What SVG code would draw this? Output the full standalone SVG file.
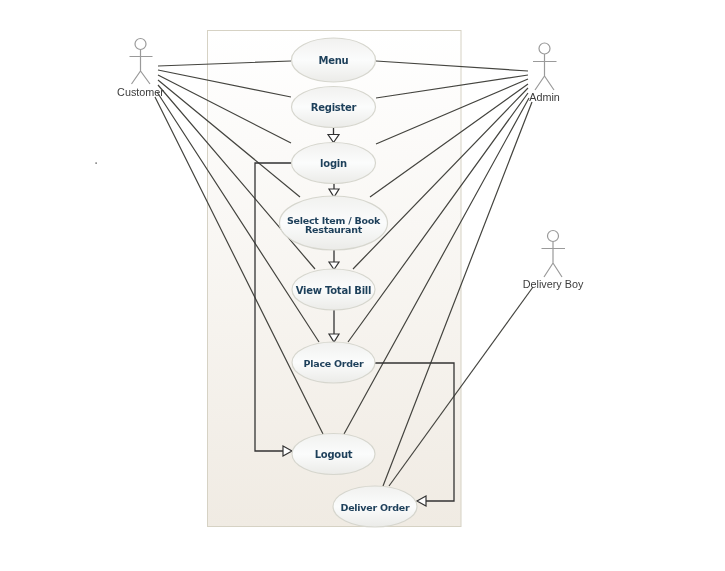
<svg xmlns="http://www.w3.org/2000/svg" width="725" height="571" viewBox="0 0 725 571">
<style>
.uc{fill:url(#ug);stroke:#d6d6ce;stroke-width:1.2}
.ut{font:bold 10px "DejaVu Sans",sans-serif;fill:#1e3f5a;text-anchor:middle;letter-spacing:-.25px}
.sm{font-size:9.5px}
.al{font:10.8px "Liberation Sans",Arial,sans-serif;fill:#3c3c3c;text-anchor:middle}
.ac{fill:none;stroke:#9a9a9a;stroke-width:1.2}
.ln{stroke:#44443f;stroke-width:1.2;fill:none}
.rel{stroke:#333;stroke-width:1.3;fill:none}
.tri{fill:#fff;stroke:#333;stroke-width:1.2}
</style>
<defs>
<linearGradient id="bg" x1="0" y1="0" x2="0" y2="1"><stop offset="0" stop-color="#ffffff"/><stop offset="1" stop-color="#f0ebe3"/></linearGradient>
<linearGradient id="ug" x1="0" y1="0" x2="0" y2="1"><stop offset="0" stop-color="#f1f1ef"/><stop offset=".5" stop-color="#fbfcfc"/><stop offset="1" stop-color="#ebebe8"/></linearGradient>
<filter id="soft" x="0" y="0" width="1" height="1" filterUnits="objectBoundingBox"><feGaussianBlur stdDeviation="0.35"/></filter>
</defs>
<g filter="url(#soft)">
<rect x="0" y="0" width="725" height="571" fill="#fff"/>
<rect id="boundary" x="207.5" y="30.5" width="253.5" height="496" fill="url(#bg)" stroke="#d6d2c4" stroke-width="1"/>
<rect x="95.5" y="162.5" width="1.2" height="1.2" fill="#222"/>
<g id="connectors">
<path class="ln" d="M158 66L291 61M158 70L291 97M158 75L291 143M158 80L300 197M158 85L315 269M157 92L319 342M155 97L323 434"/>
<path class="ln" d="M376 61L528 71M376 98L528 75M376 144L528 79M370 197L528 84M353 269L528 88M348 342L528 93M344 434L529 98M383 486L532 102"/>
<path class="ln" d="M533 287L389 486"/>
<path class="rel" d="M333.500 127V135M334 183V189M334 250V262M334 310V334M291 163H255V451H283M375 363H454V501H426"/>
<path class="tri" d="M328 134.500H339L333.500 142.500ZM329 189H339L334 197ZM329 262H339L334 269.500ZM329 334H339L334 342ZM283 446V456L292 451ZM426 496V506L417 501Z"/>
</g>
<g id="menu"><ellipse class="uc" cx="333.500" cy="60" rx="42" ry="22"/><text class="ut" x="333.500" y="64">Menu</text></g>
<g id="register"><ellipse class="uc" cx="333.500" cy="107" rx="42" ry="20.500"/><text class="ut" x="333.500" y="111">Register</text></g>
<g id="login"><ellipse class="uc" cx="333.500" cy="163" rx="42" ry="20.500"/><text class="ut" x="333.500" y="167">login</text></g>
<g id="select"><ellipse class="uc" cx="333.500" cy="223" rx="54" ry="27"/><text class="ut sm" x="333.500" y="223.500">Select Item / Book</text><text class="ut sm" x="333.500" y="233">Restaurant</text></g>
<g id="bill"><ellipse class="uc" cx="333.500" cy="289.500" rx="41.500" ry="20.500"/><text class="ut" x="333.500" y="294">View Total Bill</text></g>
<g id="place"><ellipse class="uc" cx="333.500" cy="362.500" rx="41.500" ry="20.500"/><text class="ut sm" x="333.500" y="366.500">Place Order</text></g>
<g id="logout"><ellipse class="uc" cx="333.500" cy="454" rx="41.500" ry="20.500"/><text class="ut" x="333.500" y="458">Logout</text></g>
<g id="deliver"><ellipse class="uc" cx="375" cy="506.500" rx="42" ry="20.500"/><text class="ut sm" x="375" y="510.500">Deliver Order</text></g>
<g id="customer"><circle class="ac" cx="140.500" cy="44" r="5.500"/><path class="ac" d="M140.500 49.500V71M129.500 56.500H152.500M131.500 84L140.500 71L150 84"/><text class="al" x="140.500" y="95.500">Customer</text></g>
<g id="admin"><circle class="ac" cx="544.500" cy="48.500" r="5.500"/><path class="ac" d="M544.500 54V76M533 61.500H556.500M535 90L544.500 76L554 90"/><text class="al" x="544.500" y="100.500">Admin</text></g>
<g id="delivery"><circle class="ac" cx="553" cy="236" r="5.500"/><path class="ac" d="M553 241.500V263M541.500 248.500H565M544 277L553 263L562 277"/><text class="al" x="553" y="287.500">Delivery Boy</text></g>
</g>
</svg>
